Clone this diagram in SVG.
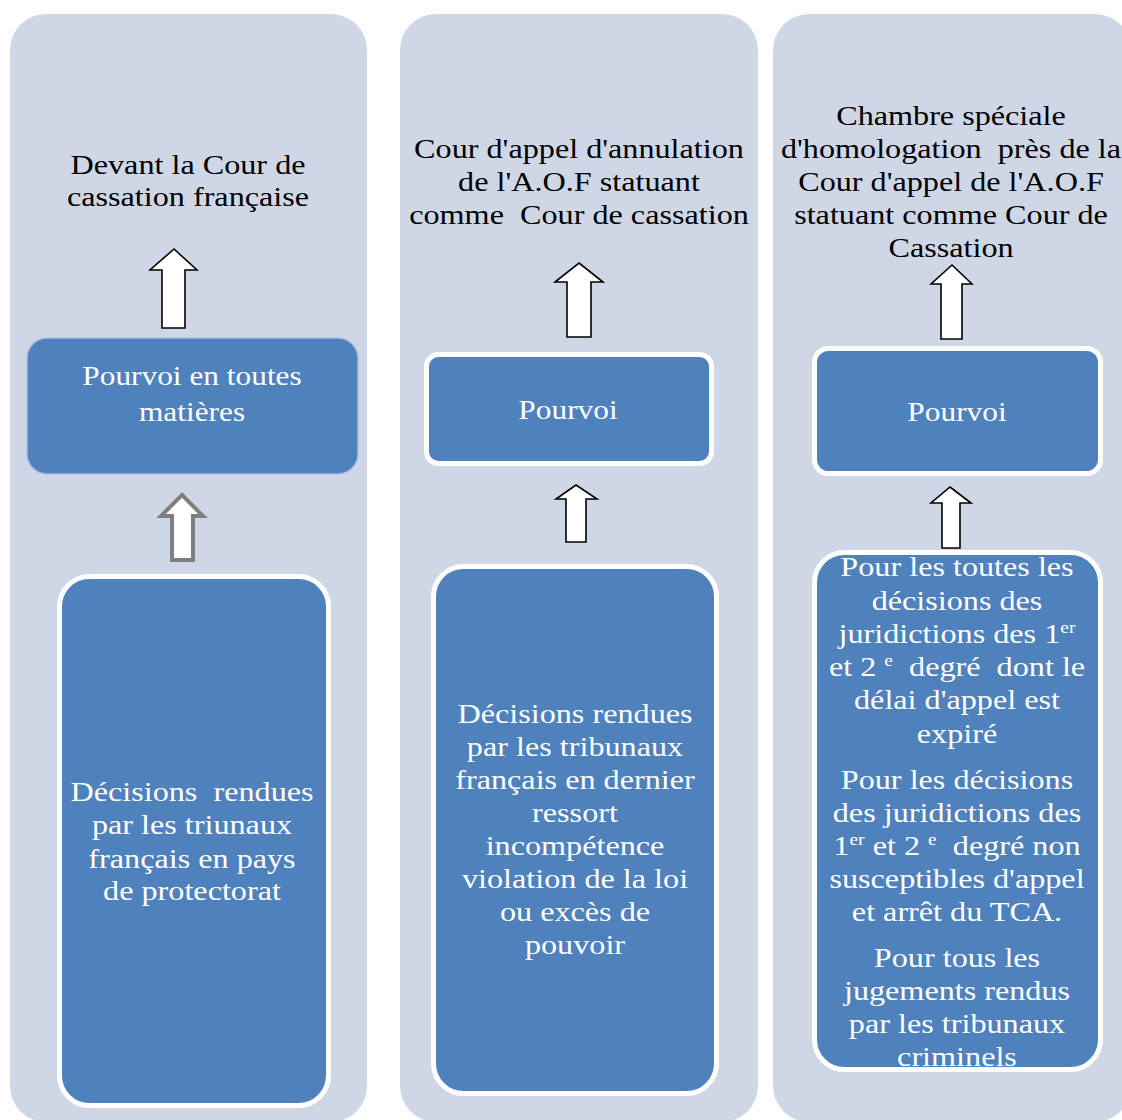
<svg xmlns="http://www.w3.org/2000/svg" width="1122" height="1120" viewBox="0 0 1122 1120">
<style>
.panel{fill:#CFD7E6;}
.box{fill:#4F81BD;}
.wb{fill:none;stroke:#FFFFFF;stroke-width:5;}
.t{font-family:"Liberation Serif","Times New Roman",serif;font-size:28px;text-anchor:middle;white-space:pre;}
.dk{fill:#000000;}
.wt{fill:#FFFFFF;}
.arrow{fill:#FFFFFF;stroke:#000000;stroke-width:1.6;stroke-linejoin:miter;}
.garrow{fill:#FFFFFF;stroke:#7F7F7F;stroke-width:4;stroke-linejoin:miter;}
.sup{font-size:17px;}
</style>
<defs>
<clipPath id="clip3"><rect x="814" y="552" width="287" height="518" rx="30"/></clipPath>
</defs>
<rect width="1122" height="1120" fill="#FFFFFF"/>

<g id="panels">
<rect id="panel1" class="panel" x="10" y="14" width="357" height="1108" rx="36"/>
<rect id="panel2" class="panel" x="400" y="14" width="358" height="1108" rx="36"/>
<rect id="panel3" class="panel" x="773" y="14" width="358" height="1108" rx="36"/>
</g>

<g id="connectors">
<polygon class="arrow" points="174,249 197,270 185,270 185,328 162,328 162,270 150,270"/>
<polygon class="garrow" points="182,495 203,516 193,516 193,560 172,560 172,516 161,516"/>
<polygon class="arrow" points="579,263 603,282 591,282 591,337 567,337 567,282 555,282"/>
<polygon class="arrow" points="576,485 597,499 586,499 586,542 566,542 566,499 556,499"/>
<polygon class="arrow" points="952,265 972,284 962,284 962,339 941,339 941,284 931,284"/>
<polygon class="arrow" points="950,487 971,503 960,503 960,548 942,548 942,503 931,503"/>
</g>

<g id="title1">
<g transform="translate(188,0) scale(1.15,1)">
<text class="t dk" x="0" y="174">Devant la Cour de</text>
<text class="t dk" x="0" y="206">cassation française</text>
</g>
</g>

<g id="title2">
<g transform="translate(579,0) scale(1.15,1)">
<text class="t dk" x="0" y="158">Cour d'appel d'annulation</text>
<text class="t dk" x="0" y="191">de l'A.O.F statuant</text>
<text class="t dk" x="0" y="224">comme  Cour de cassation</text>
</g>
</g>

<g id="title3">
<g transform="translate(951,0) scale(1.15,1)">
<text class="t dk" x="0" y="125">Chambre spéciale</text>
<text class="t dk" x="0" y="158">d'homologation  près de la</text>
<text class="t dk" x="0" y="191">Cour d'appel de l'A.O.F</text>
<text class="t dk" x="0" y="224">statuant comme Cour de</text>
<text class="t dk" x="0" y="257">Cassation</text>
</g>
</g>

<g id="pourvoi1">
<rect class="box" x="27" y="338" width="331" height="136" rx="20" stroke="#A9BEDB" stroke-width="1.5"/>
<g transform="translate(192,0) scale(1.12,1)">
<text class="t wt" x="0" y="385">Pourvoi en toutes</text>
<text class="t wt" x="0" y="421">matières</text>
</g>
</g>

<g id="decisions1">
<rect class="box" x="59.5" y="576.5" width="269" height="529" rx="30"/>
<rect class="wb" x="59.5" y="576.5" width="269" height="529" rx="30"/>
<g transform="translate(192,0) scale(1.15,1)">
<text class="t wt" x="0" y="801">Décisions  rendues</text>
<text class="t wt" x="0" y="834">par les triunaux</text>
<text class="t wt" x="0" y="868">français en pays</text>
<text class="t wt" x="0" y="900">de protectorat</text>
</g>
</g>

<g id="pourvoi2">
<rect class="box" x="426.5" y="354.5" width="285" height="109" rx="12"/>
<rect class="wb" x="426.5" y="354.5" width="285" height="109" rx="12"/>
<g transform="translate(568,0) scale(1.12,1)">
<text class="t wt" x="0" y="419">Pourvoi</text>
</g>
</g>

<g id="decisions2">
<rect class="box" x="433.5" y="566.5" width="283" height="527" rx="30"/>
<rect class="wb" x="433.5" y="566.5" width="283" height="527" rx="30"/>
<g transform="translate(575,0) scale(1.15,1)">
<text class="t wt" x="0" y="723">Décisions rendues</text>
<text class="t wt" x="0" y="756">par les tribunaux</text>
<text class="t wt" x="0" y="789">français en dernier</text>
<text class="t wt" x="0" y="822">ressort</text>
<text class="t wt" x="0" y="855">incompétence</text>
<text class="t wt" x="0" y="888">violation de la loi</text>
<text class="t wt" x="0" y="921">ou excès de</text>
<text class="t wt" x="0" y="954">pouvoir</text>
</g>
</g>

<g id="pourvoi3">
<rect class="box" x="814.5" y="348.5" width="286" height="125" rx="14"/>
<rect class="wb" x="814.5" y="348.5" width="286" height="125" rx="14"/>
<g transform="translate(957,0) scale(1.12,1)">
<text class="t wt" x="0" y="421">Pourvoi</text>
</g>
</g>

<g id="decisions3">
<rect class="box" x="814.5" y="552.5" width="286" height="517" rx="30"/>
<g clip-path="url(#clip3)">
<g transform="translate(957,0) scale(1.15,1)">
<text class="t wt" x="0" y="576">Pour les toutes les</text>
<text class="t wt" x="0" y="610">décisions des</text>
<text class="t wt" x="0" y="643">juridictions des 1<tspan class="sup" dy="-10">er</tspan></text>
<text class="t wt" x="0" y="676">et 2 <tspan class="sup" dy="-10">e</tspan><tspan dy="10">  degré  dont le</tspan></text>
<text class="t wt" x="0" y="709">délai d'appel est</text>
<text class="t wt" x="0" y="743">expiré</text>
<text class="t wt" x="0" y="789">Pour les décisions</text>
<text class="t wt" x="0" y="822">des juridictions des</text>
<text class="t wt" x="0" y="855">1<tspan class="sup" dy="-10">er</tspan><tspan dy="10"> et 2 </tspan><tspan class="sup" dy="-10">e</tspan><tspan dy="10">  degré non</tspan></text>
<text class="t wt" x="0" y="888">susceptibles d'appel</text>
<text class="t wt" x="0" y="921">et arrêt du TCA.</text>
<text class="t wt" x="0" y="967">Pour tous les</text>
<text class="t wt" x="0" y="1000">jugements rendus</text>
<text class="t wt" x="0" y="1033">par les tribunaux</text>
<text class="t wt" x="0" y="1066">criminels</text>
</g>
</g>
<rect class="wb" x="814.5" y="552.5" width="286" height="517" rx="30"/>
</g>
</svg>
